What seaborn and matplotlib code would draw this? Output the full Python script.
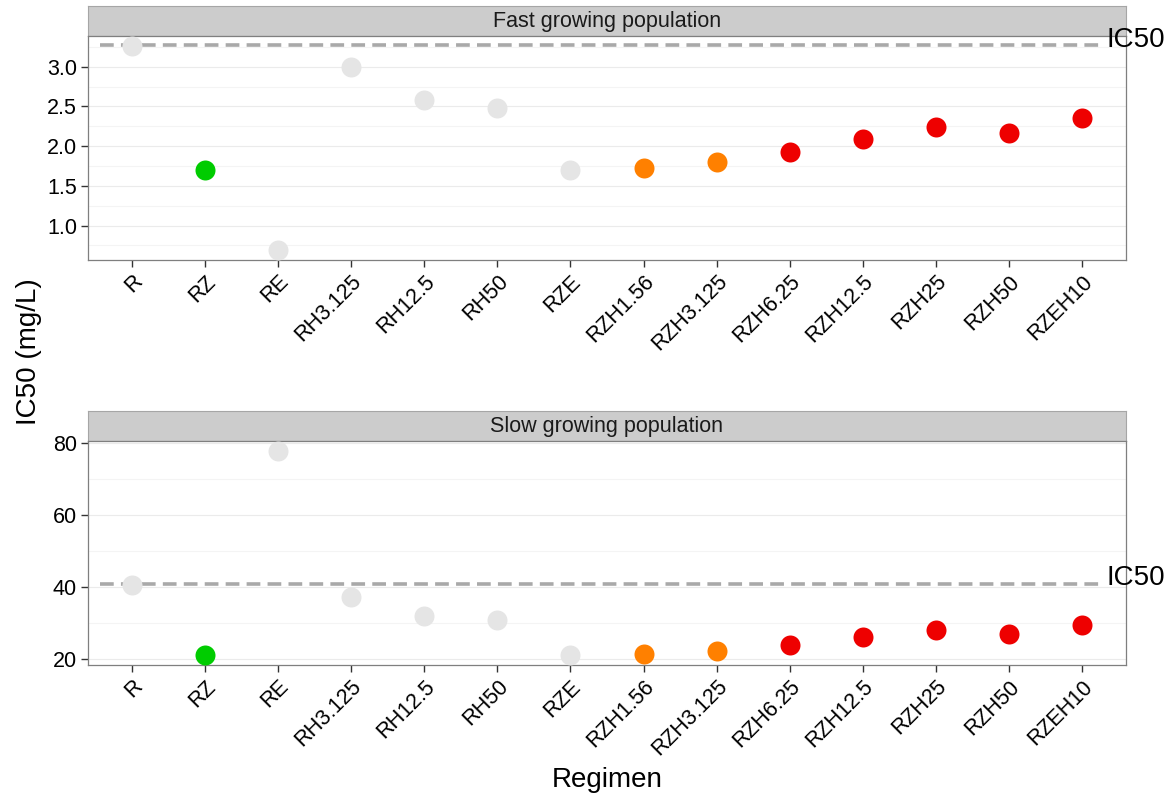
import matplotlib
matplotlib.use("Agg")
import matplotlib.pyplot as plt
from matplotlib.ticker import FixedLocator
import seaborn as sns
import pandas as pd

# Regimens in plotting order
regimens = ["R", "RZ", "RE", "RH3.125", "RH12.5", "RH50", "RZE",
            "RZH1.56", "RZH3.125", "RZH6.25", "RZH12.5", "RZH25", "RZH50", "RZEH10"]

# Colour group of each regimen
groups = ["other", "RZ", "other", "other", "other", "other", "other",
          "low", "low", "high", "high", "high", "high", "high"]

# IC50 (mg/L) per regimen
ic50_fast = [3.26, 1.70, 0.69, 3.00, 2.58, 2.48, 1.70,
             1.72, 1.80, 1.92, 2.09, 2.24, 2.17, 2.36]
ic50_slow = [40.5, 21.0, 77.7, 37.1, 31.8, 30.6, 21.0,
             21.2, 22.2, 23.8, 25.9, 27.8, 26.9, 29.2]

# Reference IC50 level of each population
ref_fast = 3.27
ref_slow = 40.7

palette = {"other": "#E5E5E5", "RZ": "#00CC00", "low": "#FF8000", "high": "#EE0000"}

sns.set_theme(style="white")
plt.rcParams["font.family"] = ["Liberation Sans", "DejaVu Sans"]

W, H = 1169, 797
fig = plt.figure(figsize=(W / 100, H / 100), dpi=100)


def frac(x0, y0, x1, y1):
    return [x0 / W, 1 - y1 / H, (x1 - x0) / W, (y1 - y0) / H]


panels = [
    dict(values=ic50_fast, ref=ref_fast, title="Fast growing population",
         box=(88, 36, 1126, 260), strip=(88, 6, 1126, 36),
         ylim=(0.566, 3.387), major=[1.0, 1.5, 2.0, 2.5, 3.0],
         minor=[0.75, 1.25, 1.75, 2.25, 2.75, 3.25], fmt="{:.1f}"),
    dict(values=ic50_slow, ref=ref_slow, title="Slow growing population",
         box=(88, 441, 1126, 665), strip=(88, 411, 1126, 441),
         ylim=(18.2, 80.45), major=[20, 40, 60, 80],
         minor=[30, 50, 70], fmt="{:.0f}"),
]

for p in panels:
    # facet strip (drawn beneath the panel so the panel's labels sit on top)
    sax = fig.add_axes(frac(*p["strip"]))
    sax.set_zorder(1)
    sax.set_facecolor("#CCCCCC")
    sax.set_xticks([])
    sax.set_yticks([])
    for s in sax.spines.values():
        s.set_color("#A6A6A6")
        s.set_linewidth(0.8)
    sax.text(0.5, 0.47, p["title"], ha="center", va="center",
             fontsize=15.5, color="#1A1A1A", transform=sax.transAxes)

    ax = fig.add_axes(frac(*p["box"]))
    ax.set_zorder(2)
    df = pd.DataFrame({"Regimen": regimens, "IC50": p["values"], "Group": groups})

    # grid
    ax.set_axisbelow(True)
    ax.yaxis.set_major_locator(FixedLocator(p["major"]))
    ax.yaxis.set_minor_locator(FixedLocator(p["minor"]))
    ax.grid(which="minor", axis="y", color="#F4F4F4", linewidth=0.8)
    ax.grid(which="major", axis="both", color="#EBEBEB", linewidth=0.8)

    # reference line and its label
    ax.hlines(p["ref"], -0.43, 13.26, colors="#A9A9A9", linewidth=2.6,
              linestyles=(0, (3.8, 2.0)), zorder=1)
    ax.annotate("IC50", xy=(13.33, p["ref"]), xytext=(0, 4),
                textcoords="offset points", ha="left", va="center",
                fontsize=20, color="black", annotation_clip=False, zorder=5)

    sns.stripplot(data=df, x="Regimen", y="IC50", hue="Group", order=regimens,
                  palette=palette, jitter=False, size=14.4, linewidth=0,
                  legend=False, ax=ax, zorder=3)

    ax.set_xlim(-0.6, 13.6)
    ax.set_ylim(*p["ylim"])
    ax.set_xlabel("")
    ax.set_ylabel("")
    ax.set_yticklabels([p["fmt"].format(v) for v in p["major"]])

    ax.tick_params(axis="both", which="major", length=5, width=1.0,
                   color="#333333", labelsize=15.5, labelcolor="black",
                   bottom=True, left=True, pad=3)
    ax.tick_params(axis="y", which="minor", length=0)
    for lab in ax.get_xticklabels():
        lab.set_rotation(45)
        lab.set_ha("right")
        lab.set_va("top")
        lab.set_rotation_mode("anchor")

    for s in ax.spines.values():
        s.set_color("#7F7F7F")
        s.set_linewidth(0.9)

fig.text(29 / W, 1 - 352 / H, "IC50 (mg/L)", rotation=90, ha="center",
         va="center", fontsize=20, color="black")
fig.text(607 / W, 1 - 780 / H, "Regimen", ha="center", va="center",
         fontsize=20, color="black")

fig.savefig("out.png", dpi=100, facecolor="white")
